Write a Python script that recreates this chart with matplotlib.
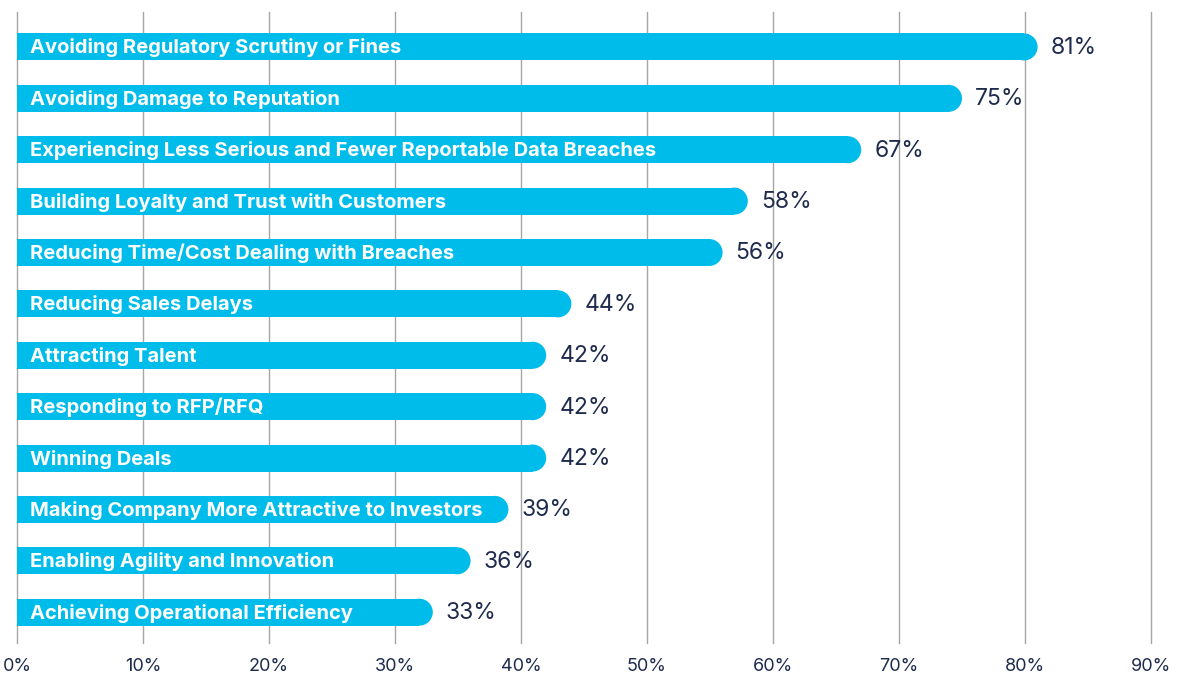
import matplotlib
matplotlib.use("Agg")
import matplotlib.pyplot as plt
from matplotlib.patches import Rectangle, Ellipse
from matplotlib.ticker import FuncFormatter

categories = [
    "Avoiding Regulatory Scrutiny or Fines",
    "Avoiding Damage to Reputation",
    "Experiencing Less Serious and Fewer Reportable Data Breaches",
    "Building Loyalty and Trust with Customers",
    "Reducing Time/Cost Dealing with Breaches",
    "Reducing Sales Delays",
    "Attracting Talent",
    "Responding to RFP/RFQ",
    "Winning Deals",
    "Making Company More Attractive to Investors",
    "Enabling Agility and Innovation",
    "Achieving Operational Efficiency",
]
values = [81, 75, 67, 58, 56, 44, 42, 42, 42, 39, 36, 33]
x_ticks = [0, 10, 20, 30, 40, 50, 60, 70, 80, 90]

BAR_COLOR = "#00bceb"
TEXT_COLOR = "#1e2b4d"
GRID_COLOR = "#a6a6a6"
FONT = ["Inter", "DejaVu Sans"]

W, H = 1180, 673
fig = plt.figure(figsize=(W / 100, H / 100), dpi=100)
left, right, top, bottom = 17, 1151, 12, 643
ax = fig.add_axes([left / W, (H - bottom) / H, (right - left) / W, (bottom - top) / H])

xmax = 90
n = len(categories)
ax.set_xlim(0, xmax)
ax.set_ylim(n - 1 + 0.6, -0.68)

# pixel scales for the rounded bar ends
px_per_x = (right - left) / xmax
px_per_y = (bottom - top) / (n - 1 + 0.6 + 0.68)
bar_h = 27 / px_per_y
r_x = (27 / 2) / px_per_x

for xt in x_ticks:
    ax.axvline(xt, color=GRID_COLOR, lw=1.0, zorder=0, clip_on=False)

for i, (cat, v) in enumerate(zip(categories, values)):
    ax.add_patch(Rectangle((0, i - bar_h / 2), v - r_x, bar_h,
                           facecolor=BAR_COLOR, edgecolor="none", zorder=2))
    ax.add_patch(Ellipse((v - r_x, i), 2 * r_x, bar_h,
                         facecolor=BAR_COLOR, edgecolor="none", zorder=2))
    ax.annotate(cat, xy=(0, i), xytext=(13, -1), textcoords="offset pixels",
                ha="left", va="center", color="white", fontsize=14.5,
                fontweight="bold", family=FONT, zorder=3)
    ax.annotate(f"{v}%", xy=(v, i), xytext=(13, -1), textcoords="offset pixels",
                ha="left", va="center", color=TEXT_COLOR, fontsize=16.5,
                family=FONT, zorder=3)

ax.set_xticks(x_ticks)
ax.xaxis.set_major_formatter(FuncFormatter(lambda x, _: f"{int(x)}%"))
ax.tick_params(axis="x", length=0, pad=11, labelsize=13, labelcolor=TEXT_COLOR)
for lbl in ax.get_xticklabels():
    lbl.set_family(FONT)
ax.set_yticks([])
for s in ax.spines.values():
    s.set_visible(False)
ax.set_facecolor("none")

fig.savefig("out.png", dpi=100)
